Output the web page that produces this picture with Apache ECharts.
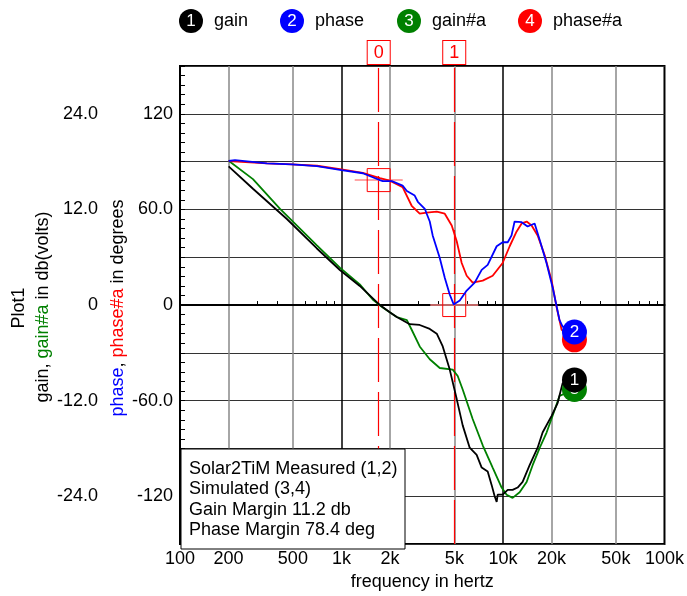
<!DOCTYPE html>
<html><head><meta charset="utf-8">
<script src="https://cdn.jsdelivr.net/npm/echarts@6/dist/echarts.min.js"></script>
<style>html,body{margin:0;padding:0;background:#fff}#c{width:687px;height:596px}</style>
</head><body><div id="c"></div>
<script>
// ---- data ----
const gainFreq = [200,283,459,704,977,1298,1730,1990,2199,2646,3050,3520,3890,4236,4680,5170,5630,6220,6870,7380,8040,8510,8880,9140,9270,9950,10700,11470,12320,13230,14620,16390,17590,20000,21790,23400,27700];
const gainDb   = [17.4,14.6,10.8,7.1,4.4,2.4,0.0,-0.9,-1.5,-2.4,-2.5,-3.0,-3.6,-5.2,-8.1,-11.8,-15.1,-17.9,-18.8,-20.4,-20.9,-22.6,-24.0,-24.7,-23.8,-23.8,-23.2,-23.2,-22.9,-22.2,-20.1,-17.9,-16.0,-13.9,-12.3,-9.8,-9.4];

const phaseFreq = [200,219,345,493,704,1000,1355,1560,1730,1800,2050,2390,2540,2840,2970,3280,3370,3520,3670,4060,4360,4680,4950,5400,5960,6680,7380,8040,9140,9950,10700,11300,11800,13050,14200,15700,16900,18600,20300,22400,23400,27700];
const phaseDeg  = [90.4,90.9,88.9,88.3,87.2,84.7,82.7,80.2,78.4,77.8,77.8,74.9,71.6,68.7,64.8,60.4,57.3,52.4,43.7,29.5,17.1,6.6,0.4,2.9,9.1,14.1,22.1,25.2,36.9,39.4,39.4,43.7,52.4,52.0,49.3,51.2,40.6,26.4,11.0,-9.5,-13.5,-16.9];

const gainAFreq = [200,283,415,704,977,1298,1560,1800,2199,2540,2720,3050,3520,4060,4883,5244,5630,6490,7490,8630,9810,10530,11470,12680,14010,15260,16900,18620,20290,22400,27700];
const gainADb   = [18.1,15.8,12.1,7.5,4.7,2.6,0.7,-0.3,-1.5,-1.9,-3.1,-5.2,-6.8,-7.9,-8.1,-8.9,-10.6,-14.3,-17.6,-20.4,-22.9,-23.8,-24.2,-23.5,-22.2,-20.1,-17.9,-16.0,-13.9,-11.4,-10.6];

const phaseAFreq = [200,345,493,704,1000,1355,1730,1990,2390,2720,3050,3370,3890,4360,4815,5170,5550,5960,6490,7490,8630,9950,11000,12150,13050,14010,15040,16390,18100,20000,21480,23070,27700];
const phaseADeg  = [90.4,88.9,88.3,87.4,85.2,83.0,79.6,78.1,74.0,62.3,57.3,58.0,58.6,57.3,49.9,40.0,26.4,18.4,14.1,15.3,18.4,26.4,36.9,46.2,51.2,52.4,49.9,43.7,31.4,15.3,-1.4,-15.6,-21.8];

const xLabelValues = [100,200,500,1000,2000,5000,10000,20000,50000,100000];
const xGridValues = [200,500,1000,2000,5000,10000,20000,50000];
const xMinorTickValues = [300,400,600,700,800,900,3000,4000,6000,7000,8000,9000,30000,40000,60000,70000,80000,90000];

const markerNames = ['0','1'];
const markerFreq  = [1700, 4990];
const markerPhase = [78.4, 0];

const legendNames = ['gain','phase','gain#a','phase#a'];
const legendNums  = ['1','2','3','4'];
const noteLines = ['Solar2TiM Measured (1,2)','Simulated (3,4)','Gain Margin 11.2 db','Phase Margin 78.4 deg'];

// ---- styling ----
const FONT = "'Liberation Sans', Arial, sans-serif";
const COLORS = {gain:'#000000', phase:'#0000ff', 'gain#a':'#008000', 'phase#a':'#ff0000'};

function fmtK(v){ return v >= 1000 ? (v/1000) + 'k' : String(v); }

function curve(name, freqs, vals, yIdx, num, z){
  const data = freqs.map((f,i)=>[f, vals[i]]);
  const last = data[data.length-1];
  const c = COLORS[name];
  return {
    type:'line', name, data, xAxisIndex:0, yAxisIndex:yIdx, symbol:'none', z,
    lineStyle:{color:c, width:1.8}, itemStyle:{color:c}, silent:true,
    markPoint:{
      symbol:'circle', symbolSize:25, silent:true, z: z+10,
      itemStyle:{color:c},
      label:{show:true, formatter:num, color:'#fff', fontSize:17, fontFamily:FONT},
      data:[{coord:last}]
    }
  };
}

const markerSeries = {
  type:'line', name:'markers', xAxisIndex:0, yAxisIndex:0, symbol:'none', silent:true,
  data: markerFreq.map((f,i)=>[f, markerPhase[i]]),
  lineStyle:{opacity:0}, z:6,
  markLine:{
    symbol:['none','none'], silent:true, animation:false,
    data: [
      {yAxis:0, lineStyle:{color:'#000', width:2, type:'solid'}, label:{show:false}}
    ].concat(markerFreq.map((f,i)=>({
      xAxis:f,
      lineStyle:{color:'#ff0000', width:1.2, type:[44,10]},
      label:{show:true, position:'end', formatter:markerNames[i], color:'#ff0000', fontSize:18, fontFamily:FONT,
             borderColor:'#ff0000', borderWidth:1, padding:[3,6,2,6], distance:2, backgroundColor:'#fff'}
    })))
  },
  markPoint:{
    silent:true, label:{show:false},
    data: [].concat(...markerFreq.map((f,i)=>[
      {coord:[f, markerPhase[i]], symbol:'rect', symbolSize:[48,1.5], itemStyle:{color:'#ff8888'}},
      {coord:[f, markerPhase[i]], symbol:'rect', symbolSize:23, itemStyle:{color:'rgba(0,0,0,0)', borderColor:'#ff0000', borderWidth:1}}
    ]))
  }
};

const legendGraphics = [];
const legendCx = [191, 292, 409, 530];
legendNames.forEach((n,i)=>{
  legendGraphics.push({type:'circle', shape:{cx:legendCx[i], cy:21, r:12}, style:{fill:COLORS[n]}, z:100});
  legendGraphics.push({type:'text', x:legendCx[i], y:21, style:{text:legendNums[i], fill:'#fff', fontSize:17, fontFamily:FONT, align:'center', verticalAlign:'middle'}, z:101});
  legendGraphics.push({type:'text', x:legendCx[i]+23, y:21, style:{text:n, fill:'#000', fontSize:18, fontFamily:FONT, align:'left', verticalAlign:'middle'}, z:101});
});

const noteGraphics = [{type:'rect', shape:{x:181, y:449, width:224, height:100}, style:{fill:'#fff', stroke:'#000', lineWidth:1}, z:100}]
  .concat(noteLines.map((t,i)=>({type:'text', x:189, y:469+i*20.4, style:{text:t, fill:'#000', fontSize:18, fontFamily:FONT, align:'left', verticalAlign:'middle'}, z:101})));

const titleGraphics = [
  {type:'text', x:19, y:308, rotation:Math.PI/2, z:101, style:{text:'Plot1', fill:'#000', fontSize:18, fontFamily:FONT, align:'center', verticalAlign:'middle'}},
  {type:'text', x:43, y:307, rotation:Math.PI/2, z:101, style:{text:'{k|gain, }{g|gain#a}{k| in db(volts)}', fontSize:18, fontFamily:FONT, align:'center', verticalAlign:'middle',
     rich:{k:{fill:'#000', fontSize:18, fontFamily:FONT}, g:{fill:'#008000', fontSize:18, fontFamily:FONT}}}},
  {type:'text', x:118, y:308, rotation:Math.PI/2, z:101, style:{text:'{b|phase}{k|, }{r|phase#a}{k| in degrees}', fontSize:18, fontFamily:FONT, align:'center', verticalAlign:'middle',
     rich:{k:{fill:'#000', fontSize:18, fontFamily:FONT}, b:{fill:'#0000ff', fontSize:18, fontFamily:FONT}, r:{fill:'#ff0000', fontSize:18, fontFamily:FONT}}}}
];

const chart = echarts.init(document.getElementById('c'), null, {renderer:'canvas'});
chart.setOption({
  animation:false,
  backgroundColor:'#fff',
  textStyle:{fontFamily:FONT},
  grid:{left:180, right:22, top:66, bottom:46, show:true, borderColor:'#000', borderWidth:2, backgroundColor:'transparent'},
  xAxis:[
    {type:'log', logBase:10, min:100, max:100000, position:'bottom',
     axisLine:{show:true, lineStyle:{color:'#000', width:2}},
     axisTick:{show:true, inside:true, length:4, customValues:xMinorTickValues, lineStyle:{color:'#000'}},
     axisLabel:{show:true, customValues:xLabelValues, formatter:fmtK, fontSize:18, color:'#000', margin:6, fontFamily:FONT, showMinLabel:true, showMaxLabel:true},
     splitLine:{show:false},
     name:'frequency in hertz', nameLocation:'middle', nameGap:26, nameTextStyle:{fontSize:18, color:'#000', fontFamily:FONT}},
    {type:'log', logBase:10, min:100, max:100000, position:'top',
     axisLine:{show:false}, axisTick:{show:false, customValues:xGridValues}, axisLabel:{show:false},
     splitLine:{show:true, lineStyle:{color:['#888','#888','#000'], width:1.5}}}
  ],
  yAxis:[
    {type:'value', min:-150, max:150, interval:30, position:'left',
     axisLine:{show:true, lineStyle:{color:'#000', width:2}},
     axisTick:{show:true, inside:true, length:5, lineStyle:{color:'#000'}},
     minorTick:{show:true, splitNumber:5, length:5, lineStyle:{color:'#000'}},
     axisLabel:{fontSize:18, color:'#000', margin:7, fontFamily:FONT,
       formatter:v=> (Math.abs(v)<=120 && v%60===0) ? (v===0?'0':(Math.abs(v)===60? v.toFixed(1): String(v))) : ''},
     splitLine:{show:true, lineStyle:{color:'#333', width:1}}},
    {type:'value', min:-30, max:30, interval:6, position:'left', offset:75,
     axisLine:{show:false}, axisTick:{show:false}, splitLine:{show:false},
     axisLabel:{fontSize:18, color:'#000', margin:7, fontFamily:FONT,
       formatter:v=> (Math.abs(v)<=24 && v%12===0) ? (v===0?'0':v.toFixed(1)) : ''}}
  ],
  graphic: legendGraphics.concat(noteGraphics, titleGraphics),
  series:[
    markerSeries,
    curve('gain#a', gainAFreq, gainADb, 1, '3', 10),
    curve('phase#a', phaseAFreq, phaseADeg, 0, '4', 11),
    curve('gain', gainFreq, gainDb, 1, '1', 12),
    curve('phase', phaseFreq, phaseDeg, 0, '2', 13)
  ]
});
</script>
</body></html>
